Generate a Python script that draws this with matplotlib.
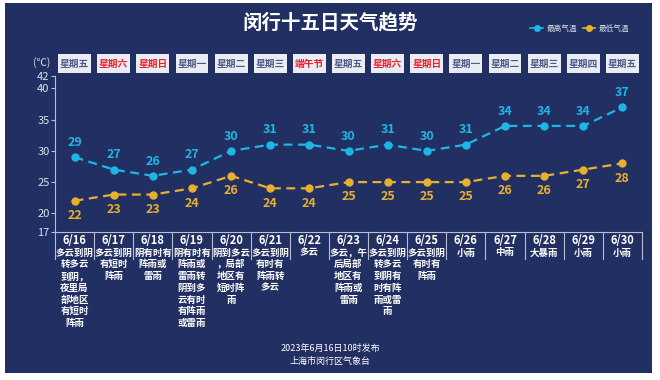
import matplotlib
matplotlib.use('Agg')
import matplotlib.pyplot as plt
import matplotlib.transforms as mtransforms
from matplotlib.patches import Rectangle
from matplotlib.lines import Line2D

plt.rcParams['font.family'] = ['Noto Sans CJK SC', 'DejaVu Sans']

# ── 데이터 ────────────────────────────────────────────────
TITLE = "闵行十五日天气趋势"
dates = ["6/16", "6/17", "6/18", "6/19", "6/20", "6/21", "6/22", "6/23",
         "6/24", "6/25", "6/26", "6/27", "6/28", "6/29", "6/30"]
weekdays = ["星期五", "星期六", "星期日", "星期一", "星期二", "星期三", "端午节", "星期五",
            "星期六", "星期日", "星期一", "星期二", "星期三", "星期四", "星期五"]
holiday = [False, True, True, False, False, False, True, False,
           True, True, False, False, False, False, False]
t_high = [29, 27, 26, 27, 30, 31, 31, 30, 31, 30, 31, 34, 34, 34, 37]
t_low = [22, 23, 23, 24, 26, 24, 24, 25, 25, 25, 25, 26, 26, 27, 28]
weather = [
    "多云到阴\n转多云\n到阴，\n夜里局\n部地区\n有短时\n阵雨",
    "多云到阴\n有短时\n阵雨",
    "阴有时有\n阵雨或\n雷雨",
    "阴有时有\n阵雨或\n雷雨转\n阴到多\n云有时\n有阵雨\n或雷雨",
    "阴到多云\n，局部\n地区有\n短时阵\n雨",
    "多云到阴\n有时有\n阵雨转\n多云",
    "多云",
    "多云，午\n后局部\n地区有\n阵雨或\n雷雨",
    "多云到阴\n转多云\n到阴有\n时有阵\n雨或雷\n雨",
    "多云到阴\n有时有\n阵雨",
    "小雨", "中雨", "大暴雨", "小雨", "小雨",
]
yticks = [17, 20, 25, 30, 35, 40, 42]
footer = "2023年6月16日10时发布\n上海市闵行区气象台"

# ── 스타일 ────────────────────────────────────────────────
BG = "#212f62"
C_HIGH = "#1db7e6"
C_LOW = "#e7b12f"
GRID_C = "#b9bfd2"
W, H = 660, 380

fig = plt.figure(figsize=(W / 100, H / 100), dpi=100)
fig.patch.set_facecolor("white")

# 배경 축 (픽셀 좌표)
bg = fig.add_axes([0, 0, 1, 1], zorder=0)
bg.set_xlim(0, W); bg.set_ylim(H, 0); bg.axis("off")
bg.add_patch(Rectangle((5, 3), 647, 370, facecolor=BG, edgecolor="none"))

# 메인 축: x 55→642 px, y 76→232 px
L, R, T, B = 55, 642, 76, 232
ax = fig.add_axes([L / W, 1 - B / H, (R - L) / W, (B - T) / H], zorder=2)
ax.patch.set_alpha(0)
n = len(dates)
x = list(range(n))
ax.set_xlim(-0.5, n - 0.5)
ax.set_ylim(17, 42)

ax.plot(x, t_high, color=C_HIGH, lw=1.6, ls=(0, (4, 2.5)), marker="o", ms=5, zorder=3)
ax.plot(x, t_low, color=C_LOW, lw=1.6, ls=(0, (4, 2.5)), marker="o", ms=5, zorder=3)
for i in x:
    ax.annotate(str(t_high[i]), (i, t_high[i]), xytext=(0, 6), textcoords="offset points",
                ha="center", va="bottom", color=C_HIGH, fontsize=9, fontweight="bold")
    ax.annotate(str(t_low[i]), (i, t_low[i]), xytext=(0, -6), textcoords="offset points",
                ha="center", va="top", color=C_LOW, fontsize=9, fontweight="bold")

ax.set_yticks(yticks)
ax.set_xticks([])
ax.tick_params(axis="y", colors=GRID_C, labelcolor="#dde0ea", labelsize=8, length=3, width=0.8, pad=1)
for s in ["top", "right"]:
    ax.spines[s].set_visible(False)
ax.spines["left"].set_color(GRID_C)
ax.spines["bottom"].set_color(GRID_C)
ax.spines["left"].set_linewidth(0.8)
ax.spines["bottom"].set_linewidth(0.8)

# x = 데이터, y = 픽셀
tr = mtransforms.blended_transform_factory(ax.transData, bg.transData)

# 요일 박스
for i in x:
    bg.add_patch(Rectangle((i - 0.42, 54), 0.84, 19, transform=tr, facecolor="#e9ecf3",
                           edgecolor="none", clip_on=False, zorder=1))
    bg.text(i, 63.5, weekdays[i], transform=tr, ha="center", va="center", fontsize=7,
            fontweight="bold", color="#e8232a" if holiday[i] else "#4d5b86", zorder=2)

# 하단 테이블
for k in range(n + 1):
    bg.add_line(Line2D([k - 0.5, k - 0.5], [232, 259], transform=tr, color=GRID_C, lw=0.8))
for i in x:
    bg.text(i, 241, dates[i], transform=tr, ha="center", va="center", fontsize=8,
            fontweight="bold", color="white")
    bg.text(i, 247.5, weather[i], transform=tr, ha="center", va="top", fontsize=6.8,
            fontweight="bold", color="white", linespacing=1.22)

# 제목, 단위, 범례, 하단
bg.text(330, 23, TITLE, ha="center", va="center", fontsize=14, fontweight="bold", color="white")
bg.text(42, 63, "(℃)", ha="center", va="center", fontsize=7.5, color="#dde0ea")
handles = [Line2D([], [], color=C_HIGH, marker="o", ms=4, lw=1.2),
           Line2D([], [], color=C_LOW, marker="o", ms=4, lw=1.2)]
fig.legend(handles, ["最高气温", "最低气温"], loc="center", bbox_to_anchor=(580 / W, 1 - 29 / H),
           ncol=2, frameon=False, fontsize=5.5, labelcolor="#d5d9e5", handlelength=1.6,
           handletextpad=0.5, columnspacing=0.8)
bg.text(330, 355, footer, ha="center", va="center", fontsize=6.5, color="white", linespacing=1.5)

fig.savefig("out.png", dpi=100, facecolor=fig.get_facecolor())
plt.close(fig)
